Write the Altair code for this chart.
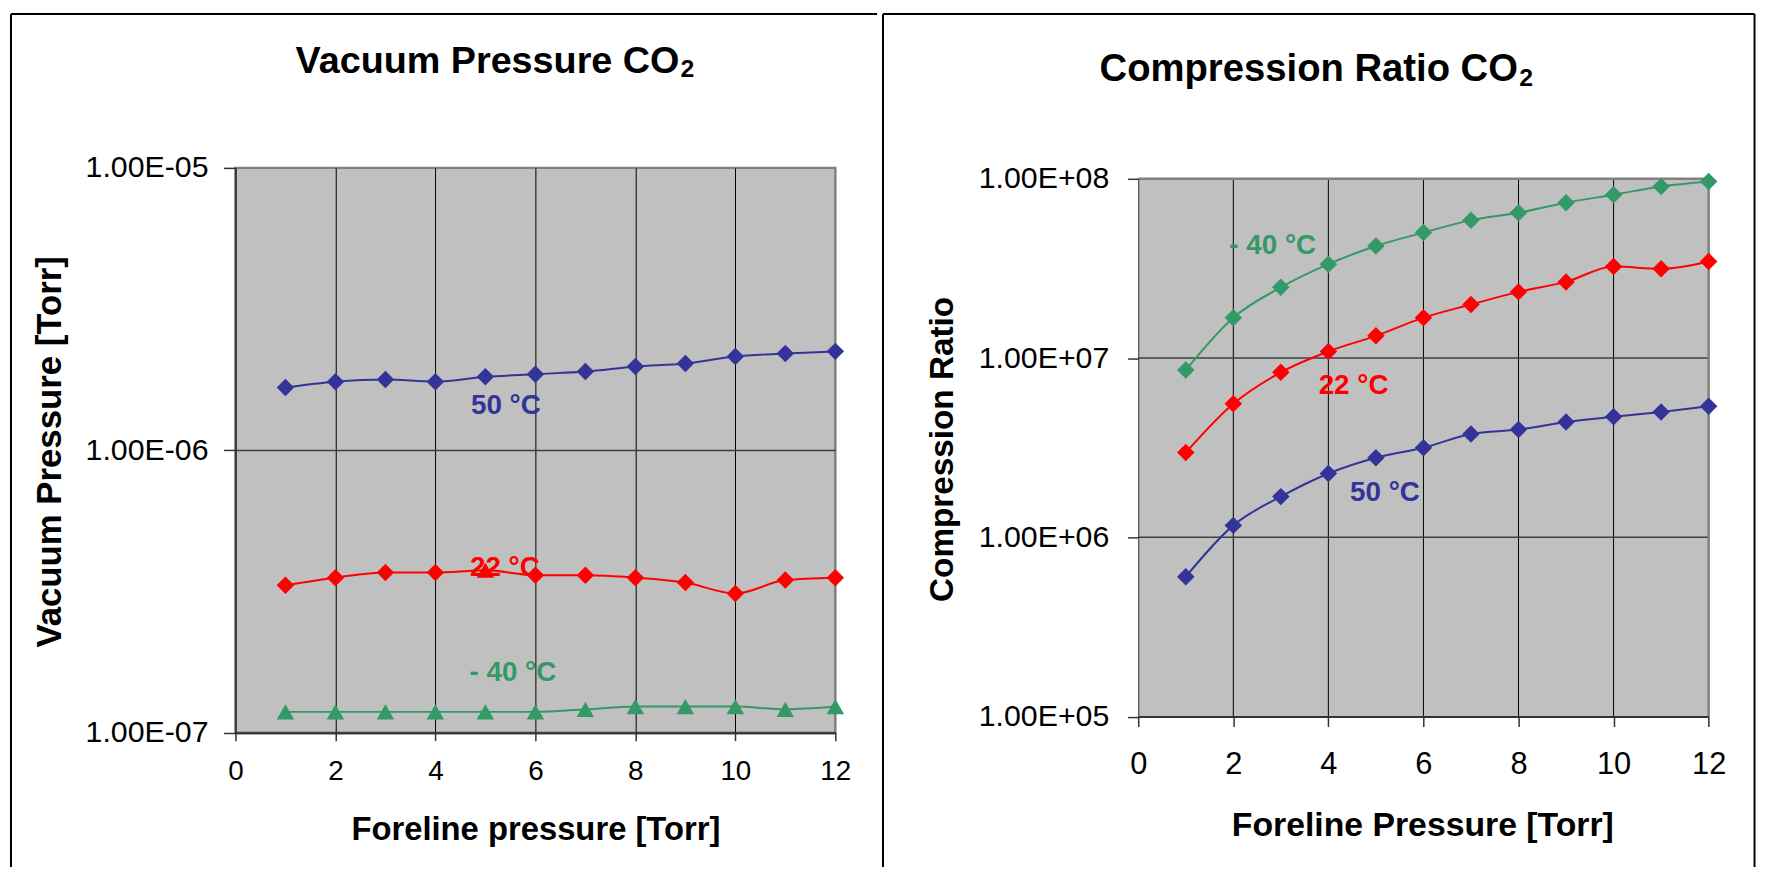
import altair as alt
import pandas as pd

# ---------------- data ----------------
x_vals = [1, 2, 3, 4, 5, 6, 7, 8, 9, 10, 11, 12]

series_names = ["50 °C", "22 °C", "- 40 °C"]
series_colors = ["#333399", "#FF0000", "#339966"]

# Vacuum pressure [Torr]
vac_50 = [1.67e-6, 1.75e-6, 1.78e-6, 1.75e-6, 1.82e-6, 1.86e-6,
          1.90e-6, 1.98e-6, 2.03e-6, 2.15e-6, 2.20e-6, 2.24e-6]
vac_22 = [3.33e-7, 3.54e-7, 3.69e-7, 3.69e-7, 3.76e-7, 3.61e-7,
          3.61e-7, 3.54e-7, 3.40e-7, 3.11e-7, 3.47e-7, 3.54e-7]
vac_m40 = [1.185e-7, 1.185e-7, 1.185e-7, 1.185e-7, 1.185e-7, 1.185e-7,
           1.21e-7, 1.237e-7, 1.237e-7, 1.237e-7, 1.21e-7, 1.237e-7]
vac_shapes_50 = ["diamond"] * 12
vac_shapes_22 = ["diamond", "diamond", "diamond", "diamond", "triangle-up", "diamond",
                 "diamond", "diamond", "diamond", "diamond", "diamond", "diamond"]
vac_shapes_m40 = ["triangle-up"] * 12

# Compression ratio
cr_50 = [6.03e5, 1.166e6, 1.687e6, 2.27e6, 2.78e6, 3.16e6,
         3.77e6, 3.99e6, 4.40e6, 4.70e6, 5.00e6, 5.38e6]
cr_22 = [2.97e6, 5.56e6, 8.33e6, 1.089e7, 1.33e7, 1.68e7,
         1.99e7, 2.34e7, 2.66e7, 3.24e7, 3.15e7, 3.46e7]
cr_m40 = [8.58e6, 1.68e7, 2.48e7, 3.34e7, 4.22e7, 5.01e7,
          5.88e7, 6.46e7, 7.36e7, 8.15e7, 9.06e7, 9.66e7]

# series label anchors (data coordinates)
vac_label_x = [5.41, 5.39, 5.55]
vac_label_y = [1.347e-6, 3.59e-7, 1.523e-7]
cr_label_x = [5.19, 4.53, 2.83]
cr_label_y = [1.60e6, 6.32e6, 3.81e7]

x_ticks = [0, 2, 4, 6, 8, 10, 12]
x_inner_grid = [2, 4, 6, 8, 10]
vac_ticks = [1e-7, 1e-6, 1e-5]
cr_ticks = [1e5, 1e6, 1e7, 1e8]
cr_inner_grid = [1e6, 1e7]

FONT = "Liberation Sans"


def series_df(vals_list, shapes_list):
    rows = []
    for name, col, vals, shapes in zip(series_names, series_colors, vals_list, shapes_list):
        for xv, yv, sh in zip(x_vals, vals, shapes):
            rows.append({"x": xv, "y": yv, "series": name, "color": col, "shape": sh})
    return pd.DataFrame(rows)


def label_df(lx, ly):
    return pd.DataFrame({"x": lx, "y": ly, "text": series_names, "color": series_colors})


vac_df = series_df([vac_50, vac_22, vac_m40], [vac_shapes_50, vac_shapes_22, vac_shapes_m40])
cr_df = series_df([cr_50, cr_22, cr_m40], [["diamond"] * 12] * 3)

one = pd.DataFrame({"k": [0]})

LABEL_EXPR = ("'1.00E' + (round(log(datum.value)/LN10) < 0 ? '-' : '+') + "
              "(abs(round(log(datum.value)/LN10)) < 10 ? '0' : '') + "
              "abs(round(log(datum.value)/LN10))")


def make_x(title, label_size, label_pad, tick_size, title_x, title_y, title_size,
           grid=True, zindex=0):
    return alt.X(
        "x:Q",
        scale=alt.Scale(domain=[0, 12], nice=False, zero=False),
        axis=alt.Axis(
            values=x_ticks, format="d", grid=grid, gridColor="#000000", gridWidth=1,
            gridOpacity={"condition": {"test": "datum.value >= 12", "value": 0}, "value": 1},
            domainColor="#333333", domainWidth=2, tickColor="#333333", tickWidth=1.5,
            tickSize=tick_size, labelFont=FONT, labelFontSize=label_size, labelColor="black",
            labelPadding=label_pad, labelFlush=False, labelOverlap=False,
            title=title, titleFont=FONT, titleFontSize=title_size, titleFontWeight="bold",
            titleColor="black", titleX=title_x, titleY=title_y, titleAlign="center",
            titleBaseline="alphabetic", zindex=zindex,
        ),
    )


def make_y(domain, ticks, top_test, title, label_size, label_pad, tick_size,
           title_x, title_y, title_size, rng=None, grid=True, zindex=0):
    if rng is None:
        scale = alt.Scale(type="log", domain=domain, nice=False)
    else:
        scale = alt.Scale(type="log", domain=domain, nice=False, range=rng)
    return alt.Y(
        "y:Q",
        scale=scale,
        axis=alt.Axis(
            values=ticks, labelExpr=LABEL_EXPR, grid=grid, gridColor="#404040", gridWidth=1.5,
            gridOpacity={"condition": {"test": top_test, "value": 0}, "value": 1},
            domainColor="#333333", domainWidth=1, tickColor="#333333", tickWidth=1.5,
            tickSize=tick_size, labelFont=FONT, labelFontSize=label_size, labelColor="black",
            labelPadding=label_pad, labelFlush=False, labelOverlap=False,
            title=title, titleFont=FONT, titleFontSize=title_size, titleFontWeight="bold",
            titleColor="black", titleAngle=270, titleX=title_x, titleY=title_y,
            titleAlign="center", titleBaseline="alphabetic", zindex=zindex,
        ),
    )


def vrule(x, y1, y2):
    return alt.Chart(one).mark_rule(color="black", strokeWidth=2).encode(
        x=alt.value(x), y=alt.value(y1), y2=alt.value(y2))


def hrule(y, x1, x2):
    return alt.Chart(one).mark_rule(color="black", strokeWidth=2).encode(
        y=alt.value(y), x=alt.value(x1), x2=alt.value(x2))


def title_text(text, x, y, size, align):
    return alt.Chart(one).mark_text(
        text=text, font=FONT, fontSize=size, fontWeight="bold", color="black",
        align=align, baseline="alphabetic").encode(x=alt.value(x), y=alt.value(y))


def data_layers(df, ldf, X, Y):
    labels = alt.Chart(ldf).mark_text(
        font=FONT, fontSize=28, fontWeight="bold", align="center", baseline="alphabetic"
    ).encode(x=X, y=Y, text="text:N", color=alt.Color("color:N", scale=None))
    lines = alt.Chart(df).mark_line(interpolate="monotone", strokeWidth=2).encode(
        x=X, y=Y, detail="series:N", color=alt.Color("color:N", scale=None))
    points = alt.Chart(df).mark_point(filled=True, size=310, opacity=1, strokeWidth=0).encode(
        x=X, y=Y, color=alt.Color("color:N", scale=None), shape=alt.Shape("shape:N", scale=None))
    return [labels, lines, points]


# ---------------- left panel ----------------
LW, LH = 604, 568.7
X_left = make_x("Foreline pressure [Torr]", 28, 17.6, 8, 302, 108, 33)
Y_left = make_y([1e-7, 1e-5], vac_ticks, "datum.value > 5e-6", "Vacuum Pressure [Torr]",
                30.5, 15.6, 12, -176.5, 285.5, 35)
left = alt.layer(
    vrule(-226, -155, 704), hrule(-155, -226, 646),
    *data_layers(vac_df, label_df(vac_label_x, vac_label_y), X_left, Y_left),
    title_text("Vacuum Pressure CO", 447, -95.7, 38, "right"),
    title_text("2", 448, -91.3, 25, "left"),
).properties(width=LW, height=LH)

# ---------------- right panel ----------------
# plot area starts 11 px lower than the left one
RW, RTOP, RBOT = 574.3, 11, 552.5
X_right = make_x("Foreline Pressure [Torr]", 31, 23.7, 10, 286, 119.5, 34,
                 grid=False, zindex=1)
Y_right = make_y([1e5, 1e8], cr_ticks, "datum.value > 5e7", "Compression Ratio",
                 30.5, 19, 10.7, -187, 283, 33.5, rng=[RBOT, RTOP], grid=False, zindex=1)

bg_rect = alt.Chart(one).mark_rect(color="#C0C0C0").encode(
    x=alt.value(0), x2=alt.value(RW), y=alt.datum(1e8), y2=alt.datum(1e5))
vgrid = alt.Chart(pd.DataFrame({"x": x_inner_grid})).mark_rule(
    color="black", strokeWidth=1).encode(x=X_right, y=alt.datum(1e8), y2=alt.datum(1e5))
hgrid = alt.Chart(pd.DataFrame({"y": cr_inner_grid})).mark_rule(
    color="#404040", strokeWidth=1.5).encode(y=Y_right, x=alt.value(0), x2=alt.value(RW))
top_border = alt.Chart(one).mark_rule(color="#808080", strokeWidth=2.5).encode(
    y=alt.datum(1e8), x=alt.value(0), x2=alt.value(RW + 1.25))
right_border = alt.Chart(one).mark_rule(color="#808080", strokeWidth=2.5).encode(
    x=alt.value(RW), y=alt.datum(1e8), y2=alt.datum(1e5))

right = alt.layer(
    vrule(-257, -155, 704), hrule(-155, -257, 620.5), vrule(620.5, -155, 704),
    bg_rect, vgrid, hgrid, top_border, right_border,
    *data_layers(cr_df, label_df(cr_label_x, cr_label_y), X_right, Y_right),
    title_text("Compression Ratio CO", 382.3, -87.3, 38.5, "right"),
    title_text("2", 383.5, -82.3, 25, "left"),
).properties(width=RW, height=RBOT, view=alt.ViewBackground(fill="transparent", stroke="transparent"))

chart = alt.concat(left, right, columns=2, spacing=0).properties(
    padding=0, background="white"
).configure_view(fill="#C0C0C0", stroke="#808080", strokeWidth=2.5)

chart.save("out.html", embed_options={"renderer": "svg", "actions": False})
